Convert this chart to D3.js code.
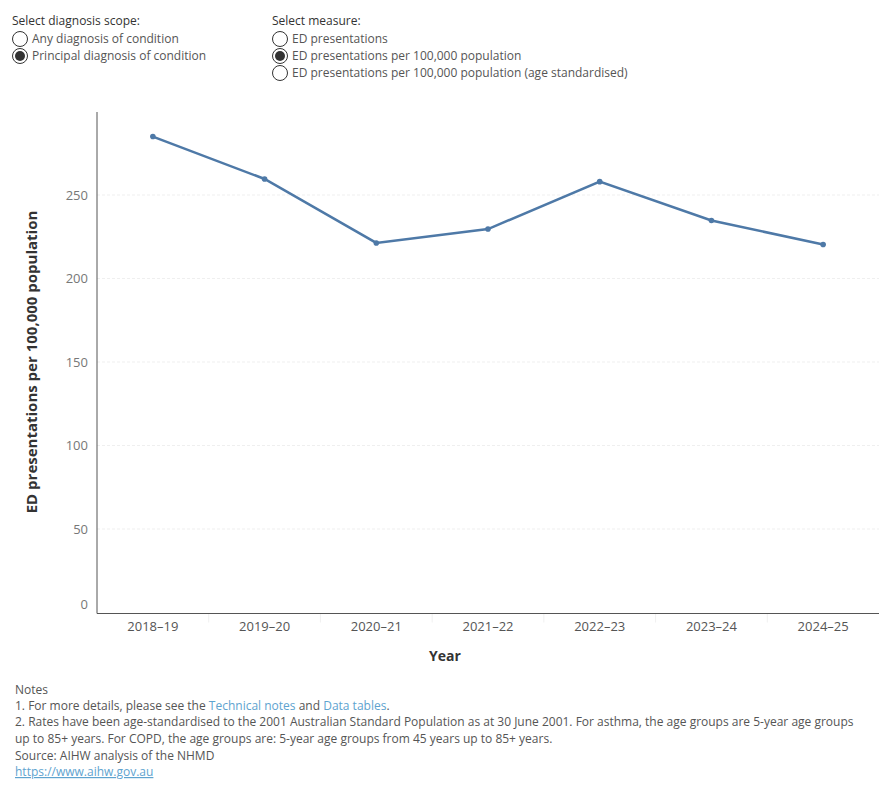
<!DOCTYPE html>
<html>
<head>
<meta charset="utf-8">
<script src="https://cdn.jsdelivr.net/npm/d3@7"></script>
<style>
  body { margin: 0; background: #fff; font-family: "Open Sans", sans-serif; }
</style>
</head>
<body>
<script>
// Data
var years = ["2018–19", "2019–20", "2020–21", "2021–22", "2022–23", "2023–24", "2024–25"];
var rates = [285, 259.6, 221.3, 229.6, 258, 234.7, 220.4];
var yTicks = [0, 50, 100, 150, 200, 250];

var scopeOptions = ["Any diagnosis of condition", "Principal diagnosis of condition"];
var measureOptions = ["ED presentations", "ED presentations per 100,000 population", "ED presentations per 100,000 population (age standardised)"];

var w = 890, h = 800;
var margin = {left: 97, right: 879, top: 112, bottom: 612.5};
var font = "'Open Sans', sans-serif";

var svg = d3.select("body").append("svg")
    .attr("width", w)
    .attr("height", h)
    .attr("font-family", font);

// Radio button controls
function radioGroup(x, y, title, options, selected) {
    var g = svg.append("g").attr("transform", "translate(" + x + "," + y + ")");
    g.append("text")
        .attr("x", 0).attr("y", 0)
        .attr("font-size", "12px")
        .attr("fill", "#333")
        .text(title);
    options.forEach(function(d, i) {
        var cy = 14 + i * 17;
        g.append("circle")
            .attr("cx", 8).attr("cy", cy)
            .attr("r", 7.5)
            .attr("fill", "#fff")
            .attr("stroke", "#333")
            .attr("stroke-width", 1);
        if (i == selected) {
            g.append("circle")
                .attr("cx", 8).attr("cy", cy)
                .attr("r", 5)
                .attr("fill", "#333");
        }
        g.append("text")
            .attr("x", 20).attr("y", cy + 4)
            .attr("font-size", "12px")
            .attr("fill", "#555")
            .text(d);
    });
}
radioGroup(12, 25, "Select diagnosis scope:", scopeOptions, 1);
radioGroup(272, 25, "Select measure:", measureOptions, 1);

// Scales
var xScale = d3.scaleBand()
    .domain(years)
    .range([margin.left, margin.right]);

var yScale = d3.scaleLinear()
    .domain([0, 250])
    .range([margin.bottom, 195]);

// Gridlines
svg.selectAll("line.grid")
    .data(yTicks.filter(function(d) { return d > 0; }))
    .enter()
    .append("line")
    .attr("class", "grid")
    .attr("x1", margin.left)
    .attr("x2", margin.right)
    .attr("y1", function(d) { return yScale(d); })
    .attr("y2", function(d) { return yScale(d); })
    .attr("stroke", "#efefef")
    .attr("stroke-dasharray", "3,2");

// Y axis
var yAxis = d3.axisLeft(yScale).tickValues(yTicks).tickSize(0).tickPadding(9);
var yg = svg.append("g")
    .attr("transform", "translate(" + margin.left + ",0)")
    .call(yAxis);
yg.select(".domain").remove();
yg.selectAll("text")
    .attr("font-family", font)
    .attr("font-size", "13px")
    .attr("fill", "#777")
    .attr("dy", function(d) { return d == 0 ? "-0.3em" : "0.32em"; });

// X axis
var xAxis = d3.axisBottom(xScale).tickSize(0).tickPadding(8);
var xg = svg.append("g")
    .attr("transform", "translate(0," + (margin.bottom + 1) + ")")
    .call(xAxis);
xg.select(".domain").remove();
xg.selectAll("text")
    .attr("font-family", font)
    .attr("font-size", "13px")
    .attr("fill", "#555");

// band separators below axis
svg.selectAll("line.sep")
    .data(years.slice(1))
    .enter()
    .append("line")
    .attr("class", "sep")
    .attr("x1", function(d) { return xScale(d); })
    .attr("x2", function(d) { return xScale(d); })
    .attr("y1", margin.bottom + 1)
    .attr("y2", margin.bottom + 10)
    .attr("stroke", "#f0f0f0");

// Axis lines
svg.append("line")
    .attr("x1", margin.left).attr("x2", margin.left)
    .attr("y1", margin.top).attr("y2", margin.bottom + 1)
    .attr("stroke", "#555");
svg.append("line")
    .attr("x1", margin.left).attr("x2", margin.right)
    .attr("y1", margin.bottom + 1).attr("y2", margin.bottom + 1)
    .attr("stroke", "#555");

// Axis titles
svg.append("text")
    .attr("transform", "translate(37,362) rotate(-90)")
    .attr("text-anchor", "middle")
    .attr("font-size", "15px")
    .attr("font-weight", "bold")
    .attr("fill", "#333")
    .text("ED presentations per 100,000 population");

svg.append("text")
    .attr("x", w / 2)
    .attr("y", 661)
    .attr("text-anchor", "middle")
    .attr("font-size", "14px")
    .attr("font-weight", "bold")
    .attr("fill", "#333")
    .text("Year");

// Line
var line = d3.line()
    .x(function(d, i) { return xScale(years[i]) + xScale.bandwidth() / 2; })
    .y(function(d) { return yScale(d); });

svg.append("path")
    .datum(rates)
    .attr("d", line)
    .attr("fill", "none")
    .attr("stroke", "#4e79a7")
    .attr("stroke-width", 2.5);

svg.selectAll("circle.pt")
    .data(rates)
    .enter()
    .append("circle")
    .attr("class", "pt")
    .attr("cx", function(d, i) { return xScale(years[i]) + xScale.bandwidth() / 2; })
    .attr("cy", function(d) { return yScale(d); })
    .attr("r", 2.8)
    .attr("fill", "#4e79a7");

// Notes
var notes = svg.append("g").attr("font-size", "12px").attr("fill", "#555");
notes.append("text").attr("x", 15).attr("y", 694).text("Notes");
var n1 = notes.append("text").attr("x", 15).attr("y", 710);
n1.append("tspan").text("1. For more details, please see the ");
n1.append("tspan").attr("fill", "#5ea3cf").text("Technical notes");
n1.append("tspan").text(" and ");
n1.append("tspan").attr("fill", "#5ea3cf").text("Data tables");
n1.append("tspan").text(".");
notes.append("text").attr("x", 15).attr("y", 726)
    .text("2. Rates have been age-standardised to the 2001 Australian Standard Population as at 30 June 2001. For asthma, the age groups are 5-year age groups");
notes.append("text").attr("x", 15).attr("y", 743)
    .text("up to 85+ years.  For COPD, the age groups are: 5-year age groups from 45 years up to 85+ years.");
notes.append("text").attr("x", 15).attr("y", 760).text("Source: AIHW analysis of the NHMD");
notes.append("text").attr("x", 15).attr("y", 776)
    .attr("fill", "#5ea3cf")
    .attr("text-decoration", "underline")
    .text("https://www.aihw.gov.au");
</script>
</body>
</html>
